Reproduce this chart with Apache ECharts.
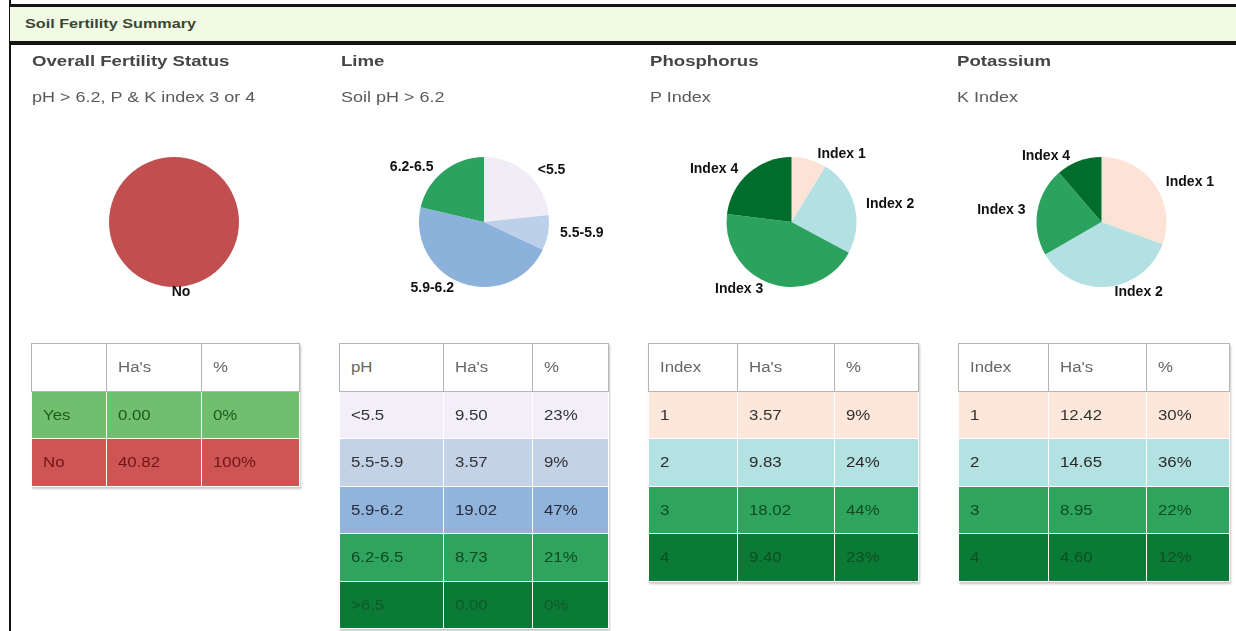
<!DOCTYPE html>
<html>
<head>
<meta charset="utf-8">
<script src="https://cdn.jsdelivr.net/npm/echarts@6/dist/echarts.min.js"></script>
<style>
  html, body { margin:0; padding:0; }
  body { width:1236px; height:631px; overflow:hidden; background:#fff; position:relative;
         font-family:'Liberation Sans', Arial, sans-serif; }
  #chart { position:absolute; left:0; top:0; width:1236px; height:631px; }
  .vline { position:absolute; left:9px; top:0; width:2px; height:631px; background:#111; }
  .hdr { position:absolute; left:10px; top:4px; width:1226px; height:34px;
         border-top:3px solid #151515; border-bottom:4px solid #151515; background:#f1fbe3; }
  .wide { display:inline-block; transform:scaleX(1.2); transform-origin:left center; white-space:nowrap; }
  .hdr .wide { position:absolute; left:15px; top:9px; font-size:13.5px; font-weight:bold; color:#3c4634; }
  .ttl { position:absolute; top:52px; font-size:15.5px; font-weight:bold; color:#454545; }
  .sub { position:absolute; top:88px; font-size:15px; color:#5a5a5a; }
  table.t { position:absolute; top:343px; border-collapse:collapse; table-layout:fixed;
            box-shadow:1px 2px 2px rgba(0,0,0,0.22); }
  table.t td { height:47.5px; padding:0 0 0 11px; font-size:14px; vertical-align:middle;
               border:1px solid rgba(255,255,255,0.45); box-sizing:border-box; overflow:hidden; }
  table.t tr.h td { background:#fff; color:#666; border:1px solid #b5b5b5; }
</style>
</head>
<body>
<div id="chart"></div>
<div class="vline"></div>
<div class="hdr"><span class="wide">Soil Fertility Summary</span></div>
<div id="labels"></div>
<div id="tables"></div>
<script>
// ---------- data ----------
const sectionTitles = ['Overall Fertility Status', 'Lime', 'Phosphorus', 'Potassium'];
const sectionSubtitles = ['pH > 6.2, P & K index 3 or 4', 'Soil pH > 6.2', 'P Index', 'K Index'];

const overallCats = ['Yes', 'No'];
const overallHa = [0.00, 40.82];
const overallPct = [0, 100];

const limeCats = ['<5.5', '5.5-5.9', '5.9-6.2', '6.2-6.5', '>6.5'];
const limeHa = [9.50, 3.57, 19.02, 8.73, 0.00];
const limePct = [23, 9, 47, 21, 0];

const indexCats = ['1', '2', '3', '4'];
const indexNames = ['Index 1', 'Index 2', 'Index 3', 'Index 4'];
const pHa = [3.57, 9.83, 18.02, 9.40];
const pPct = [9, 24, 44, 23];
const kHa = [12.42, 14.65, 8.95, 4.60];
const kPct = [30, 36, 22, 12];

// ---------- styles ----------
const overallPieColors = ['#74c476', '#c24f4f'];
const overallRowBg = ['#70bf6e', '#cf5555'];
const overallRowFg = ['#1d5a1d', '#6e1616'];
const limePieColors = ['#f1edf6', '#bdd0e9', '#8cb2dc', '#2ca25f', '#006d2c'];
const limeRowBg = ['#f3eff8', '#c3d2e7', '#90b4db', '#2fa45e', '#0b7a36'];
const limeRowFg = ['#333', '#333', '#2a2a3a', '#0c4a22', '#0e5a28'];
const idxPieColors = ['#fde3d6', '#b3e0e2', '#2ca25f', '#006d2c'];
const idxRowBg = ['#fde6da', '#b4e1e1', '#2fa45e', '#0b7a36'];
const idxRowFg = ['#333', '#2a2a2a', '#0d4d22', '#0a4f20'];

const colLeft = [32, 341, 650, 957];
const pieCenters = [[174, 222], [484, 222], [791.5, 222], [1101.5, 222]];
const pieRadius = 65;

// ---------- titles ----------
const lab = document.getElementById('labels');
sectionTitles.forEach((t, i) => {
  const d = document.createElement('div');
  d.className = 'ttl'; d.style.left = colLeft[i] + 'px';
  d.innerHTML = '<span class="wide"></span>'; d.firstChild.textContent = t;
  lab.appendChild(d);
  const s = document.createElement('div');
  s.className = 'sub'; s.style.left = colLeft[i] + 'px';
  s.innerHTML = '<span class="wide"></span>'; s.firstChild.textContent = sectionSubtitles[i];
  lab.appendChild(s);
});

// ---------- tables ----------
function buildTable(left, widths, header, cats, ha, pct, bg, fg) {
  const t = document.createElement('table');
  t.className = 't'; t.style.left = left + 'px';
  const cg = document.createElement('colgroup');
  widths.forEach(w => { const c = document.createElement('col'); c.style.width = w + 'px'; cg.appendChild(c); });
  t.appendChild(cg);
  t.style.width = widths.reduce((a, b) => a + b, 0) + 'px';
  const mk = (cells, cls, b, f) => {
    const tr = document.createElement('tr'); if (cls) tr.className = cls;
    cells.forEach(v => {
      const td = document.createElement('td');
      if (b) { td.style.background = b; td.style.color = f; }
      const sp = document.createElement('span'); sp.className = 'wide'; sp.textContent = v;
      td.appendChild(sp); tr.appendChild(td);
    });
    t.appendChild(tr);
  };
  mk(header, 'h');
  cats.forEach((c, i) => mk([c, ha[i].toFixed(2), pct[i] + '%'], '', bg[i], fg[i]));
  document.getElementById('tables').appendChild(t);
}
buildTable(31, [75, 95, 98], ['', "Ha's", '%'], overallCats, overallHa, overallPct, overallRowBg, overallRowFg);
buildTable(339, [104, 89, 76], ['pH', "Ha's", '%'], limeCats, limeHa, limePct, limeRowBg, limeRowFg);
buildTable(648, [89, 97, 84], ['Index', "Ha's", '%'], indexCats, pHa, pPct, idxRowBg, idxRowFg);
buildTable(958, [90, 98, 83], ['Index', "Ha's", '%'], indexCats, kHa, kPct, idxRowBg, idxRowFg);

// ---------- pies ----------
function pieSeries(center, names, values, colors, extra) {
  const data = names.map((n, i) => ({ name: n, value: values[i], itemStyle: { color: colors[i] } }))
                    .filter(d => d.value > 0);
  return Object.assign({
    type: 'pie', center: center, radius: pieRadius, startAngle: 90, clockwise: true,
    animation: false, silent: true, data: data,
    itemStyle: { borderWidth: 0 },
    label: { show: true, position: 'outside', formatter: '{b}', color: '#111',
             fontWeight: 'bold', fontSize: 14, fontFamily: 'Liberation Sans' },
    labelLine: { show: false, length: 5, length2: 2 },
    emphasis: { disabled: true }
  }, extra || {});
}
const chart = echarts.init(document.getElementById('chart'), null, { renderer: 'canvas' });
chart.setOption({
  animation: false,
  series: [
    pieSeries(pieCenters[0], overallCats, overallHa, overallPieColors, { labelLayout: { align: 'center' } }),
    pieSeries(pieCenters[1], limeCats, limeHa, limePieColors),
    pieSeries(pieCenters[2], indexNames, pHa, idxPieColors),
    pieSeries(pieCenters[3], indexNames, kHa, idxPieColors)
  ]
});
</script>
</body>
</html>
